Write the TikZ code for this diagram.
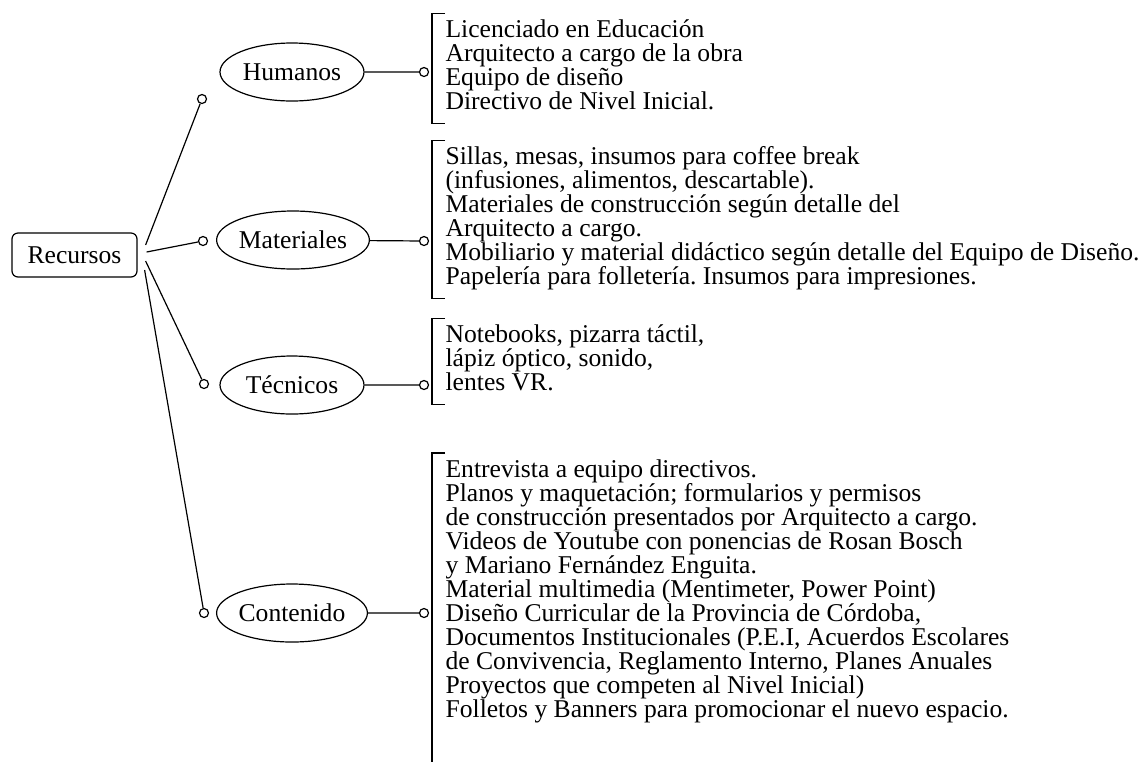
\documentclass[tikz,border=0pt]{standalone}
\usepackage{fontspec}
\setmainfont{Liberation Serif}
\usetikzlibrary{shapes.geometric,calc}
\newcommand\listfont{\fontsize{12.8}{12}\selectfont\frenchspacing\setlength\lineskiplimit{-10pt}}
\newcommand\brak[1]{\draw([xshift=6.5pt]#1.north west)--(#1.north west)--(#1.south west)--([xshift=6.5pt]#1.south west);}

\begin{document}
\begin{tikzpicture}[x=0.5pt,y=-0.5pt,semithick,
  every node/.style={font=\listfont},
  recbox/.style={draw,rounded corners=3pt,minimum width=62.5pt,minimum height=22pt,inner sep=0pt},
  oval/.style={draw,ellipse,minimum width=72pt,minimum height=29pt,inner sep=0pt},
  dot/.style={draw,circle,minimum size=4.5pt,inner sep=0pt},
  list/.style={anchor=west,align=left,inner xsep=6.5pt,inner ysep=3pt}]
\useasboundingbox(0,0)rectangle(1145,762);
\node[recbox](rec)at(74.5,255){Recursos};
\coordinate(r1)at($(rec.east)+(8,-10)$);
\coordinate(r2)at($(rec.east)+(9,-3)$);
\coordinate(r3)at($(rec.east)+(8,6)$);
\coordinate(r4)at($(rec.east)+(7,15)$);
\node[oval](hum)at(292,72){Humanos};
\node[oval](mat)at(293,240){Materiales};
\node[oval](tec)at(292,385){Técnicos};
\node[oval](con)at(292,613){Contenido};
\node[dot](hl)at(202,99){};
\node[dot](ml)at(203,241){};
\node[dot](tl)at(204,384){};
\node[dot](cl)at(204,613){};
\node[dot](hr)at(424,72){};
\node[dot](mr)at(424,241){};
\node[dot](tr)at(424,385){};
\node[dot](cr)at(424,613){};
\draw(r1)--(hl)(r2)--(ml)(r3)--(tl)(r4)--(cl);
\draw(hum)--(hr)(mat)--(mr)(tec)--(tr)(con)--(cr);
\node[list](h)at(432,68.2){\strut Licenciado en Educación\\Arquitecto a cargo de la obra\\Equipo de diseño\\\strut Directivo de Nivel Inicial.};
\node[list](m)at(432,219.5){\strut Sillas, mesas, insumos para coffee break\\(infusiones, alimentos, descartable).\\Materiales de construcción según detalle del\\Arquitecto a cargo.\\Mobiliario y material didáctico según detalle del Equipo de Diseño.\\\strut Papelería para folletería. Insumos para impresiones.};
\node[list](t)at(432,361.5){\strut Notebooks, pizarra táctil,\\lápiz óptico, sonido,\\\strut lentes VR.};
\node[list](c)at(432,592){\strut Entrevista a equipo directivos.\\Planos y maquetación; formularios y permisos\\de construcción presentados por Arquitecto a cargo.\\Videos de Youtube con ponencias de Rosan Bosch\\y Mariano Fernández Enguita.\\Material multimedia (Mentimeter, Power Point)\\Diseño Curricular de la Provincia de Córdoba,\\Documentos Institucionales (P.E.I, Acuerdos Escolares\\de Convivencia, Reglamento Interno, Planes Anuales\\Proyectos que competen al Nivel Inicial)\\\strut Folletos y Banners para promocionar el nuevo espacio.};
\brak{h}\brak{m}\brak{t}
\draw([xshift=6.5pt]c.north west)--(c.north west)--(c.west|-0,762);
\end{tikzpicture}
\end{document}
